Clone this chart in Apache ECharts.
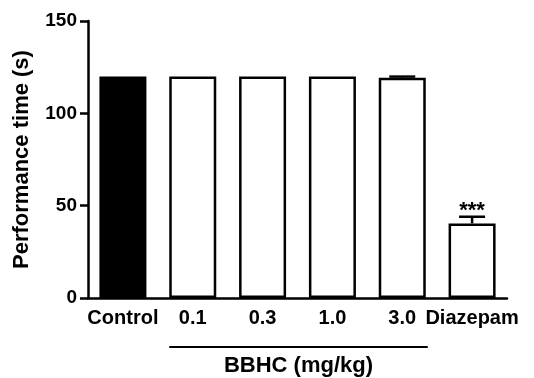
<!DOCTYPE html>
<html>
<head>
<meta charset="utf-8">
<script src="https://cdn.jsdelivr.net/npm/echarts@6/dist/echarts.min.js"></script>
<style>
  html, body { margin: 0; padding: 0; background: #fff; }
  #chart { width: 534px; height: 378px; }
</style>
</head>
<body>
<div id="chart"></div>
<script>
// data
var categories = ['Control', '0.1', '0.3', '1.0', '3.0', 'Diazepam'];
var means = [120, 120, 120, 120, 119.3, 40.4];
var errors = [0, 0, 0, 0, 0.6, 3.6];
var marks = ['', '', '', '', '', '***'];
var yTicks = [0, 50, 100, 150];
var groupLabel = 'BBHC (mg/kg)';
var groupFrom = 1, groupTo = 4;

var font = 'Liberation Sans, Arial, sans-serif';
var barW = 47;

var chart = echarts.init(document.getElementById('chart'));

var barData = means.map(function (v, i) {
  var filled = i === 0;
  return {
    value: v,
    itemStyle: {
      color: filled ? '#000' : '#fff',
      borderColor: '#000',
      borderWidth: 2.5
    }
  };
});

chart.setOption({
  animation: false,
  grid: { left: 88, right: 27, top: 21, bottom: 80 },
  xAxis: {
    type: 'category',
    data: categories,
    axisLine: { lineStyle: { color: '#000', width: 2.5 } },
    axisTick: { alignWithLabel: true, length: 7, lineStyle: { color: '#000', width: 2.5 } },
    axisLabel: { color: '#000', fontFamily: font, fontWeight: 'bold', fontSize: 20, margin: 10, interval: 0 }
  },
  yAxis: {
    type: 'value',
    min: yTicks[0],
    max: yTicks[yTicks.length - 1],
    interval: 50,
    name: 'Performance time (s)',
    nameLocation: 'middle',
    nameGap: 55,
    nameTextStyle: { color: '#000', fontFamily: font, fontWeight: 'bold', fontSize: 22 },
    axisLine: { show: true, lineStyle: { color: '#000', width: 2.5 } },
    axisTick: { show: true, length: 8, lineStyle: { color: '#000', width: 2.5 } },
    axisLabel: { color: '#000', fontFamily: font, fontWeight: 'bold', fontSize: 19, margin: 11 },
    splitLine: { show: false }
  },
  series: [
    {
      type: 'bar',
      data: barData,
      barWidth: barW
    },
    {
      type: 'custom',
      data: means.map(function (v, i) { return [i, v, errors[i]]; }),
      renderItem: function (params, api) {
        var i = api.value(0), m = api.value(1), e = api.value(2);
        var top = api.coord([i, m + e]);
        var base = api.coord([i, m]);
        var kids = [];
        if (e > 0) {
          kids.push({ type: 'line', shape: { x1: base[0], y1: base[1], x2: top[0], y2: top[1] }, style: { stroke: '#000', lineWidth: 2.5 } });
          kids.push({ type: 'line', shape: { x1: top[0] - 13, y1: top[1], x2: top[0] + 13, y2: top[1] }, style: { stroke: '#000', lineWidth: 2.5 } });
        }
        if (marks[i]) {
          kids.push({ type: 'text', style: { text: marks[i], x: top[0], y: top[1] - 6, align: 'center', verticalAlign: 'middle', fill: '#000', font: 'bold 22px ' + font } });
        }
        return { type: 'group', children: kids };
      },
      z: 5
    }
  ]
});

// group bracket under the dose categories
var p1 = chart.convertToPixel({ xAxisIndex: 0, yAxisIndex: 0 }, [groupFrom, 0]);
var p2 = chart.convertToPixel({ xAxisIndex: 0, yAxisIndex: 0 }, [groupTo, 0]);
var lx1 = p1[0] - barW / 2, lx2 = p2[0] + barW / 2 + 2;
var ly = p1[1] + 49;
chart.setOption({
  graphic: [
    { type: 'line', shape: { x1: lx1, y1: ly, x2: lx2, y2: ly }, style: { stroke: '#000', lineWidth: 2 } },
    { type: 'text', x: (lx1 + lx2) / 2, y: ly + 19, style: { text: groupLabel, align: 'center', verticalAlign: 'middle', fill: '#000', font: 'bold 22px ' + font } }
  ]
});
</script>
</body>
</html>
